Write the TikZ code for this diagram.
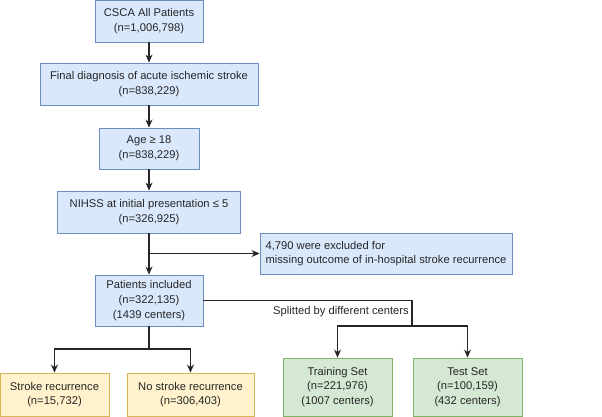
\documentclass[tikz,border=0pt]{standalone}
\usepackage{fontspec}
\setmainfont{Liberation Sans}
\usetikzlibrary{arrows.meta}

\begin{document}
\begin{tikzpicture}[x=1pt,y=1pt,yscale=-1,xscale=1,
  every node/.style={font=\fontsize{11.2}{14.6}\selectfont, text=black!85},
  boxstyle/.style={draw, line width=0.9pt, inner sep=0pt, align=center},
  bluebox/.style={boxstyle, draw=myblue, fill=myblueFill},
  yellowbox/.style={boxstyle, draw=myyellow, fill=myyellowFill},
  greenbox/.style={boxstyle, draw=mygreen, fill=mygreenFill},
  link/.style={line width=1.1pt, draw=black!85},
  arrowlink/.style={link, -{Stealth[length=8pt,width=7pt]}}]

\definecolor{myblue}{HTML}{6C8EBF}
\definecolor{myblueFill}{HTML}{DAE8FC}
\definecolor{myyellow}{HTML}{D6B656}
\definecolor{myyellowFill}{HTML}{FFF2CC}
\definecolor{mygreen}{HTML}{82B366}
\definecolor{mygreenFill}{HTML}{D5E8D4}

\useasboundingbox (0,0) rectangle (602,416);

% main column
\node[bluebox, minimum width=108, minimum height=42] (all) at (149, 21) {CSCA All Patients\\(n=1,006,798)};
\node[bluebox, minimum width=218, minimum height=42] (diag) at (149, 84) {Final diagnosis of acute ischemic stroke\\(n=838,229)};
\node[bluebox, minimum width=100, minimum height=41] (age) at (149, 148.5) {Age ≥ 18\\(n=838,229)};
\node[bluebox, minimum width=183, minimum height=42] (nihss) at (149, 212) {NIHSS at initial presentation ≤ 5\\(n=326,925)};
\node[bluebox, minimum width=108, minimum height=51] (incl) at (149, 300.5) {Patients included\\(n=322,135)\\(1439 centers)};

% exclusion
\node[bluebox, align=left, minimum width=252, minimum height=41] (excl) at (386, 253.5) {4,790 were excluded for\\missing outcome of in-hospital stroke recurrence};

% outcome groups
\node[yellowbox, minimum width=109, minimum height=43] (rec) at (54.5, 394.5) {Stroke recurrence\\(n=15,732)};
\node[yellowbox, minimum width=127, minimum height=43] (norec) at (190.5, 394.5) {No stroke recurrence\\(n=306,403)};

% data split
\node[greenbox, minimum width=109, minimum height=58] (train) at (337.5, 387) {Training Set\\(n=221,976)\\(1007 centers)};
\node[greenbox, minimum width=109, minimum height=58] (test) at (467.5, 387) {Test Set\\(n=100,159)\\(432 centers)};

\coordinate (branch) at (149, 253.5);
\coordinate (fork) at (149, 349);
\coordinate (split) at (412, 326);

\draw[arrowlink] (all) -- (diag);
\draw[arrowlink] (diag) -- (age);
\draw[arrowlink] (age) -- (nihss);
\draw[arrowlink] (nihss) -- (incl);
\draw[arrowlink] (branch) -- (excl.west);

\draw[link] (incl.south) -- (fork);
\draw[arrowlink] (fork) -| (rec.north);
\draw[arrowlink] (fork) -| (norec.north);

\draw[link] (incl.east) -| (split);
\draw[arrowlink] (split) -| (train.north);
\draw[arrowlink] (split) -| (test.north);
\node (splitlabel) at (341, 312) {Splitted by different centers};

\end{tikzpicture}
\end{document}
